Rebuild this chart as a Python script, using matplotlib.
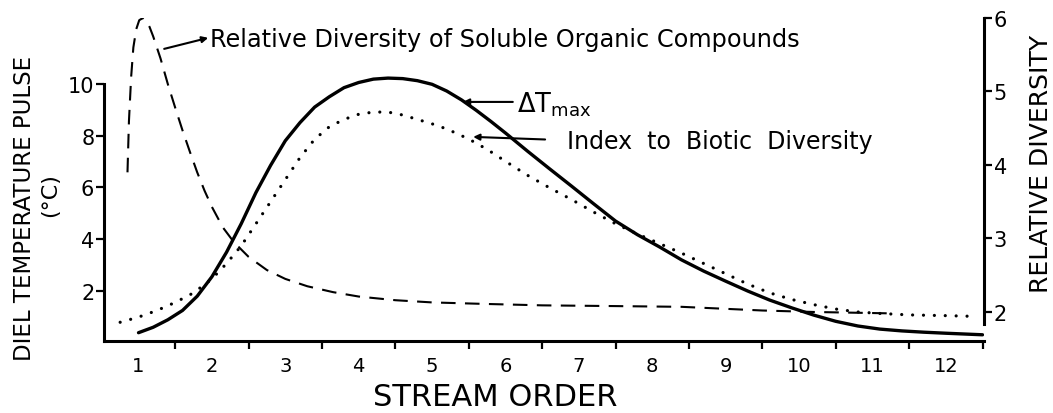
import matplotlib
matplotlib.use("Agg")
import matplotlib.pyplot as plt

plt.rcParams['font.family'] = ['DejaVu Sans']
plt.rcParams['mathtext.fontset'] = 'dejavusans'

# ---- data ----
# Delta T max (left axis, degrees C)
dt_x = [1.0, 1.2, 1.4, 1.6, 1.8, 2.0, 2.2, 2.4, 2.6, 2.8, 3.0, 3.2, 3.4,
        3.6, 3.8, 4.0, 4.2, 4.4, 4.6, 4.8, 5.0, 5.2, 5.4, 5.6, 5.8, 6.0,
        6.3, 6.6, 6.9, 7.2, 7.5, 7.8, 8.1, 8.4, 8.7, 9.0, 9.3, 9.6, 9.9,
        10.2, 10.5, 10.8, 11.1, 11.4, 11.7, 12.0, 12.5]
dt_y = [0.39, 0.6, 0.89, 1.25, 1.8, 2.55, 3.5, 4.6, 5.8, 6.85, 7.8, 8.5,
        9.1, 9.5, 9.85, 10.05, 10.18, 10.22, 10.2, 10.12, 9.98, 9.72, 9.38,
        8.98, 8.55, 8.1, 7.4, 6.72, 6.05, 5.37, 4.7, 4.17, 3.7, 3.2, 2.77,
        2.38, 2.0, 1.65, 1.35, 1.07, 0.83, 0.65, 0.53, 0.46, 0.41, 0.37,
        0.31]

# Index to biotic diversity (right axis, relative diversity)
bio_x = [0.75, 1.0, 1.25, 1.5, 1.75, 2.0, 2.2, 2.4, 2.6, 2.8, 3.0, 3.2,
         3.4, 3.6, 3.8, 4.0, 4.2, 4.4, 4.6, 4.8, 5.0, 5.2, 5.4, 5.6, 5.8,
         6.0, 6.3, 6.6, 6.9, 7.2, 7.5, 7.8, 8.1, 8.4, 8.7, 9.0, 9.3, 9.6,
         9.9, 10.2, 10.5, 10.8, 11.1, 11.5, 12.0, 12.4]
bio_y = [1.86, 1.93, 2.02, 2.13, 2.26, 2.45, 2.66, 2.9, 3.2, 3.5, 3.8, 4.1,
         4.35, 4.52, 4.62, 4.69, 4.72, 4.72, 4.68, 4.62, 4.56, 4.49, 4.4,
         4.3, 4.18, 4.05, 3.86, 3.69, 3.53, 3.36, 3.2, 3.06, 2.93, 2.8,
         2.66, 2.52, 2.38, 2.26, 2.17, 2.1, 2.04, 2.0, 1.98, 1.96, 1.95,
         1.94]

# Relative diversity of soluble organic compounds (right axis)
org_x = [0.85, 0.87, 0.9, 0.93, 0.97, 1.01, 1.06, 1.1, 1.15, 1.2, 1.3, 1.4,
         1.5, 1.6, 1.7, 1.8, 1.9, 2.0, 2.15, 2.3, 2.5, 2.75, 3.0, 3.3,
         3.65, 4.0, 4.5, 5.0, 5.7, 6.5, 7.5, 8.4, 9.5, 10.2, 11.3]
org_y = [3.9, 4.6, 5.2, 5.6, 5.85, 5.97, 6.0, 5.97, 5.88, 5.75, 5.45, 5.1,
         4.78, 4.47, 4.18, 3.9, 3.65, 3.43, 3.15, 2.95, 2.75, 2.57, 2.45,
         2.35, 2.27, 2.21, 2.16, 2.13, 2.11, 2.09, 2.08, 2.07, 2.02, 2.0,
         1.98]

x_labels = ['1', '2', '3', '4', '5', '6', '7', '8', '9', '10', '11', '12']
left_ticks = [2, 4, 6, 8, 10]
right_ticks = [2, 3, 4, 5, 6]

# ---- figure ----
W, H = 1053, 414
fig = plt.figure(figsize=(W / 100, H / 100), dpi=100)
ax = fig.add_axes([104 / W, 1 - 342 / H, (984 - 104) / W, (342 - 19) / H])
axr = ax.twinx()

ax.set_xlim(0.53, 12.52)
ax.set_ylim(0.07, 12.54)
axr.set_ylim(1.605, 6.0)

ax.plot(dt_x, dt_y, color='black', lw=2.4, solid_capstyle='round',
        solid_joinstyle='round')
axr.plot(bio_x, bio_y, color='black', lw=2.3, linestyle=(0, (0.01, 3.4)),
         dash_capstyle='round')
axr.plot(org_x, org_y, color='black', lw=1.5, linestyle=(0, (7.0, 4.5)))

# spines
for a in (ax, axr):
    a.spines['top'].set_visible(False)
    a.patch.set_visible(False)
ax.spines['right'].set_visible(False)
axr.spines['left'].set_visible(False)
axr.spines['bottom'].set_visible(False)
ax.spines['left'].set_bounds(0.07, 10)
axr.spines['right'].set_bounds(1.83, 6)
for s in (ax.spines['left'], ax.spines['bottom'], axr.spines['right']):
    s.set_linewidth(2.2)

# x ticks: marks at half orders, labels at whole orders
order_pos = list(range(1, len(x_labels) + 1))
ax.set_xticks([p + 0.5 for p in order_pos])
ax.set_xticklabels([])
ax.set_xticks(order_pos, minor=True)
ax.set_xticklabels(x_labels, minor=True)
ax.tick_params(axis='x', which='major', direction='out', length=6, width=1.6)
ax.tick_params(axis='x', which='minor', length=0, pad=11, labelsize=14)

ax.set_yticks(left_ticks)
ax.set_yticklabels([str(t) for t in left_ticks])
ax.tick_params(axis='y', direction='out', length=6, width=1.6, pad=1,
               labelsize=15)
axr.set_yticks(right_ticks)
axr.set_yticklabels([str(t) for t in right_ticks])
axr.tick_params(axis='y', direction='out', length=6, width=1.6, pad=1,
                labelsize=15)

# axis titles
fig.text(495 / W, 1 - 406 / H, 'STREAM ORDER', ha='center', va='baseline',
         fontsize=22)
fig.text(25 / W, 1 - 208 / H, 'DIEL TEMPERATURE PULSE', rotation=90,
         ha='center', va='center', fontsize=16.5)
fig.text(50 / W, 1 - 195 / H, '(°C)', rotation=90, ha='center', va='center',
         fontsize=16)
fig.text(1041 / W, 1 - 164 / H, 'RELATIVE DIVERSITY', rotation=90,
         ha='center', va='center', fontsize=18)

# annotations
axr.text(1.98, 5.71, 'Relative Diversity of Soluble Organic Compounds',
         ha='left', va='center', fontsize=17.3)
axr.annotate('', xy=(1.95, 5.73), xytext=(1.35, 5.58),
             arrowprops=dict(arrowstyle='-|>', lw=1.5, color='black',
                             mutation_scale=9, shrinkA=0, shrinkB=0))

ax.text(6.16, 9.23, r'$\Delta\mathrm{T}_{\mathrm{max}}$', ha='left',
        va='center', fontsize=18.5)
ax.annotate('', xy=(5.42, 9.3), xytext=(6.1, 9.3),
            arrowprops=dict(arrowstyle='-|>', lw=1.5, color='black',
                            mutation_scale=9, shrinkA=0, shrinkB=0))

ax.text(6.84, 7.8, 'Index  to  Biotic  Diversity', ha='left', va='center',
        fontsize=17)
ax.annotate('', xy=(5.56, 7.95), xytext=(6.54, 7.85),
            arrowprops=dict(arrowstyle='-|>', lw=1.5, color='black',
                            mutation_scale=9, shrinkA=0, shrinkB=0))

fig.savefig('out.png', dpi=100)
